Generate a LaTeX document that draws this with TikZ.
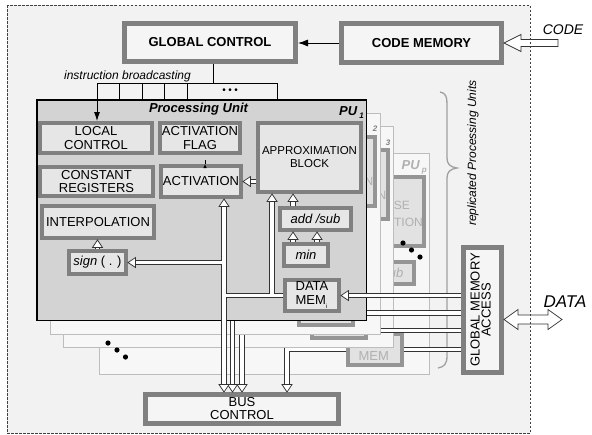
\documentclass[tikz,border=0pt]{standalone}
\usepackage{fontspec}
\setmainfont{Liberation Sans}
\usepackage{graphicx}
\usetikzlibrary{calc,arrows.meta}
\definecolor{bg}{HTML}{F2F2F2}
\definecolor{pufill}{HTML}{D3D3D3}
\definecolor{boxfill}{HTML}{E6E6E6}
\definecolor{bordergray}{HTML}{808080}
\definecolor{topfill}{HTML}{F5F5F5}
\definecolor{hdark}{HTML}{333333}
\definecolor{backfill}{HTML}{F7F7F7}
\definecolor{backline}{HTML}{BDBDBD}
\definecolor{backinner}{HTML}{E2E2E2}
\definecolor{backborder}{HTML}{959595}
\definecolor{bracegray}{HTML}{A0A0A0}
\definecolor{fadetext}{HTML}{B0B0B0}
\definecolor{midtext}{HTML}{808080}
\newcommand\fsz[1]{\fontsize{#1}{#1}\selectfont}
\tikzset{
  every node/.append style={inner sep=0pt},
  fbox/.style={draw=bordergray, line width=4pt, fill=boxfill, align=center, font=\fontsize{13}{14}\selectfont},
  tbox/.style={draw=bordergray, line width=5pt, fill=topfill, align=center, font=\fontsize{13}{13}\selectfont},
  bkpu/.style={draw=backline, line width=1pt, fill=backfill},
  bkbox/.style={draw=backborder, line width=4pt, fill=backinner, align=center, font=\fontsize{13}{14}\selectfont},
  hout/.style={draw=hdark, line width=5.5pt},
  hin/.style={draw=white, line width=3.5pt},
  htip/.pic={\path[draw=hdark, fill=white, line width=0.7pt, line join=miter] (0,0) -- (-7.5,5) -- (-7.5,-5) -- cycle;},
  bline/.style={draw=black, line width=0.8pt},
}
\newcommand\hollowline[2][]{\draw[hout,#1] #2; \draw[hin,#1] #2;}
% #1 id, #2/#3 shift, #4 text colour, #5 add/sub text, #6 memory text, #7 extra
\newcommand\backpu[7]{%
\begin{scope}[shift={(#2,#3)}]
\node[bkpu, minimum width=330pt, minimum height=221pt] (pu#1) at (201.5,210) {};
\node[bkbox, minimum width=103pt, minimum height=69pt] (ap#1) at (309.5,157.5) {};
\node[bkbox, text=#4, minimum width=71pt, minimum height=22pt] (as#1) at (315.5,219) {#5};
\node[bkbox, text=#4, align=left, minimum width=54pt, minimum height=31pt] (dm#1) at (312,295.5) {#6};
#7
\end{scope}}
\newcommand\pulines[1]{%
 \draw[#1, shorten <=6pt, shorten >=6pt] (t1) -- (t1b);
 \draw[#1, shorten >=6pt] (t1s) -- (sg.east);
 \draw[#1] (dm.west) -- (t1d);
 \draw[#1, shorten >=6pt] (tad) -- (ta);
 \draw[#1, shorten >=6pt] (ap.west |- act.east) -- (act.east);
 \draw[#1, shorten >=6pt] (sg.north) -- (sg.north |- ip.south);
 \draw[#1, shorten >=6pt] (a1) -- (a1 |- ap.south);
 \draw[#1, shorten >=6pt] (m1) -- (m1 |- as.south);
 \draw[#1, shorten >=6pt] (m2) -- (m2 |- as.south);
 \draw[#1, shorten >=6pt] (gma.west |- dm.east) -- (dm.east);
}
\begin{document}
\begin{tikzpicture}[x=1pt,y=-1pt]
\useasboundingbox (0,0) rectangle (592,434);
\fill[white] (0,0) rectangle (592,434);
\fill[bg] (7,5) rectangle (530,433);

% top row
\node[tbox, font=\fontsize{13}{13}\selectfont\bfseries, minimum width=171pt, minimum height=38pt] (gc) at (210,42.5) {GLOBAL CONTROL};
\node[tbox, font=\fontsize{13}{13}\selectfont\bfseries, minimum width=160pt, minimum height=39pt] (cm) at (421.5,43) {CODE MEMORY};
\draw[bline, -{Latex[length=10pt,width=7pt]}] (cm.west) -- (cm.west -| gc.east);
\draw[hdark, fill=white, line width=0.7pt] (cm.east) -- ++(17,-8.5) -- ++(0,5) -- ++(37,0) -- ++(0,7) -- ++(-37,0) -- ++(0,5) -- cycle;
\node[font=\fsz{14}\itshape] (code) at (563,30) {CODE};

% instruction bus
\coordinate (gb) at ($(gc.south)+(3,0)$);
\coordinate (ibl) at (97,83);
\coordinate (ibr) at (277,83);
\draw[bline] (gb) -- (gb |- ibl);
\draw[bline] (ibl) -- (ibr);
\foreach \xx in {119,142,164,187,277} \draw[bline] (\xx,83) -- (\xx,100);
\node[font=\fsz{10}] (dots) at (230,91) {•\hspace{2.5pt}•\hspace{2.5pt}•};
\node[font=\fsz{12}\itshape] (ib) at (127.5,76) {instruction broadcasting};

% brace and label
\draw[bracegray, line width=1.3pt] (440,92) .. controls (446,93) and (447,97) .. (447,104) -- (447,158) .. controls (447,164) and (450,167) .. (457,168) .. controls (450,169) and (447,172) .. (447,178) -- (447,356) .. controls (447,364) and (444,367) .. (438,368);
\node[rotate=90, font=\fsz{12}\itshape] (rep) at (473,153) {replicated Processing Units};

% global memory access
\node[tbox, minimum width=38pt, minimum height=125pt] (gma) at (482.5,310) {\rotatebox{90}{\begin{tabular}{@{}c@{}}GLOBAL MEMORY\\[-2pt]ACCESS\end{tabular}}};
\coordinate (da) at ($(gma.east)+(0,9.5)$);
\draw[hdark, fill=white, line width=0.7pt] (da) -- ++(14,-10) -- ++(0,5.5) -- ++(30,0) -- ++(0,-5.5) -- ++(14,10) -- ++(-14,10) -- ++(0,-5.5) -- ++(-30,0) -- ++(0,5.5) -- cycle;
\node[font=\fsz{17}\itshape] (data) at (565,301.5) {DATA};

% bus control
\node[tbox, align=center, font=\fontsize{13}{13}\selectfont, minimum width=193pt, minimum height=29pt] (bus) at (242,409) {BUS\\CONTROL};

% back processing units
\backpu{p}{63}{54}{fadetext}{\textit{add /sub}}{\phantom{DATA}\\MEM}{%
 \node[anchor=east, text=fadetext, font=\fsz{12}] at (347,151) {SE};
 \node[anchor=east, text=fadetext, font=\fsz{12}] at (360,168) {TION};
 \node[anchor=base east, text=fadetext, font=\fsz{13}\bfseries\itshape] at (364,115) {PU\,\raisebox{-3pt}{\fsz{8}p}};}
\coordinate (bp) at ($(bus.north)+(45,0)$);
\hollowline{(gma.west |- dmp.east) -- (dmp.east)}
\hollowline[shorten >=6pt]{(dmp.west) -| (bp)}
\pic[rotate=-90] at (bp) {htip};

\backpu{3}{26.5}{27}{midtext}{}{}{%
 \node[anchor=east, text=fadetext, font=\fsz{12}] at (360,168) {N};
 \node[anchor=base east, text=midtext, font=\fsz{8}\bfseries\itshape] at (364,118) {3};}
\coordinate (d3) at (375,330.5);
\coordinate (b3) at (242,320);
\hollowline{(gma.west |- d3) -- (d3)}
\hollowline[shorten >=6pt]{(b3) -- (b3 |- bus.north)}
\pic[rotate=-90] at (b3 |- bus.north) {htip};

\backpu{2}{13.5}{13.5}{midtext}{}{}{%
 \node[anchor=east, text=fadetext, font=\fsz{12}] at (360,168) {N};
 \node[anchor=base east, text=midtext, font=\fsz{8}\bfseries\itshape] at (364,118) {2};}
\coordinate (d2) at (360,313);
\coordinate (b2) at (232.5,310);
\hollowline{(gma.west |- d2) -- (d2)}
\hollowline[shorten >=6pt]{(b2) -- (b2 |- bus.north)}
\pic[rotate=-90] at (b2 |- bus.north) {htip};

% front processing unit
\node[draw=black, line width=1.5pt, fill=pufill, minimum width=329.5pt, minimum height=220.5pt] (pu1) at (201.5,210) {};
\node[font=\fsz{13}\bfseries\itshape] (put) at (198.5,109) {Processing Unit};
\node[anchor=base east, font=\fsz{13}\bfseries\itshape] (pul) at (364,115) {PU\,\raisebox{-3pt}{\fsz{8}1}};
\node[fbox, minimum width=112pt, minimum height=30pt] (lc) at (96,138) {LOCAL\\CONTROL};
\node[fbox, minimum width=80pt, minimum height=30pt] (af) at (200,138) {ACTIVATION\\FLAG};
\node[fbox, font=\fontsize{13}{13.5}\selectfont, minimum width=113pt, minimum height=29pt] (cr) at (96.5,181.5) {CONSTANT\\REGISTERS};
\node[fbox, minimum width=80pt, minimum height=31pt] (act) at (201,181.5) {ACTIVATION};
\node[fbox, minimum width=112pt, minimum height=32pt] (ip) at (98,222) {INTERPOLATION};
\node[fbox, minimum width=57pt, minimum height=23pt] (sg) at (97.5,262.5) {\textit{sign} ( . )};
\node[fbox, font=\fontsize{11.5}{13}\selectfont, minimum width=103pt, minimum height=69pt] (ap) at (309.5,157.5) {APPROXIMATION\\BLOCK};
\node[fbox, minimum width=71pt, minimum height=22pt] (as) at (315.5,219) {\textit{add /sub}};
\node[fbox, minimum width=44pt, minimum height=22pt] (mn) at (306,255) {\textit{min}};
\node[fbox, align=left, minimum width=54pt, minimum height=31pt] (dm) at (312,295.5) {DATA\\MEM\raisebox{-4pt}{\fsz{6}i}};

% instruction arrow into local control
\draw[bline, -{Latex[length=9pt,width=6pt]}] (ibl) -- (ibl |- lc.north);
% activation -> flag
\draw[bline, -{Latex[length=4pt,width=3.5pt]}] ($(act.north)+(4,0)$) -- ($(act.north)+(4,0)$ |- af.south);

% hollow connections of PU 1
\coordinate (t1) at ($(act.south)+(23,0)$);
\coordinate (t1b) at (t1 |- bus.north);
\coordinate (t1s) at (t1 |- sg.east);
\coordinate (t1d) at (t1 |- dm.west);
\coordinate (ta) at ($(ap.south)+(-37.5,0)$);
\coordinate (tad) at (ta |- dm.west);
\coordinate (a1) at ($(as.north)+(-22.5,0)$);
\coordinate (m1) at ($(mn.north)+(-13,0)$);
\coordinate (m2) at ($(mn.north)+(11,0)$);
\pulines{hout}
\pulines{hin}
\pic[rotate=90] at (t1) {htip};
\pic[rotate=-90] at (t1b) {htip};
\pic[rotate=180] at (sg.east) {htip};
\pic[rotate=90] at (ta) {htip};
\pic[rotate=180] at (act.east) {htip};
\pic[rotate=90] at (sg.north |- ip.south) {htip};
\pic[rotate=90] at (a1 |- ap.south) {htip};
\pic[rotate=90] at (m1 |- as.south) {htip};
\pic[rotate=90] at (m2 |- as.south) {htip};
\pic[rotate=180] at (dm.east) {htip};

% ellipsis dots
\foreach \p in {(108,343),(117,350),(125.5,357),(403,243),(411.5,250),(420,257)} \fill[black] \p circle (2.6pt);

% dashed frame
\draw[gray!50!black, line width=0.6pt, dash pattern=on 2.5pt off 1.5pt] (7,5) rectangle (530,433);
\end{tikzpicture}
\end{document}
